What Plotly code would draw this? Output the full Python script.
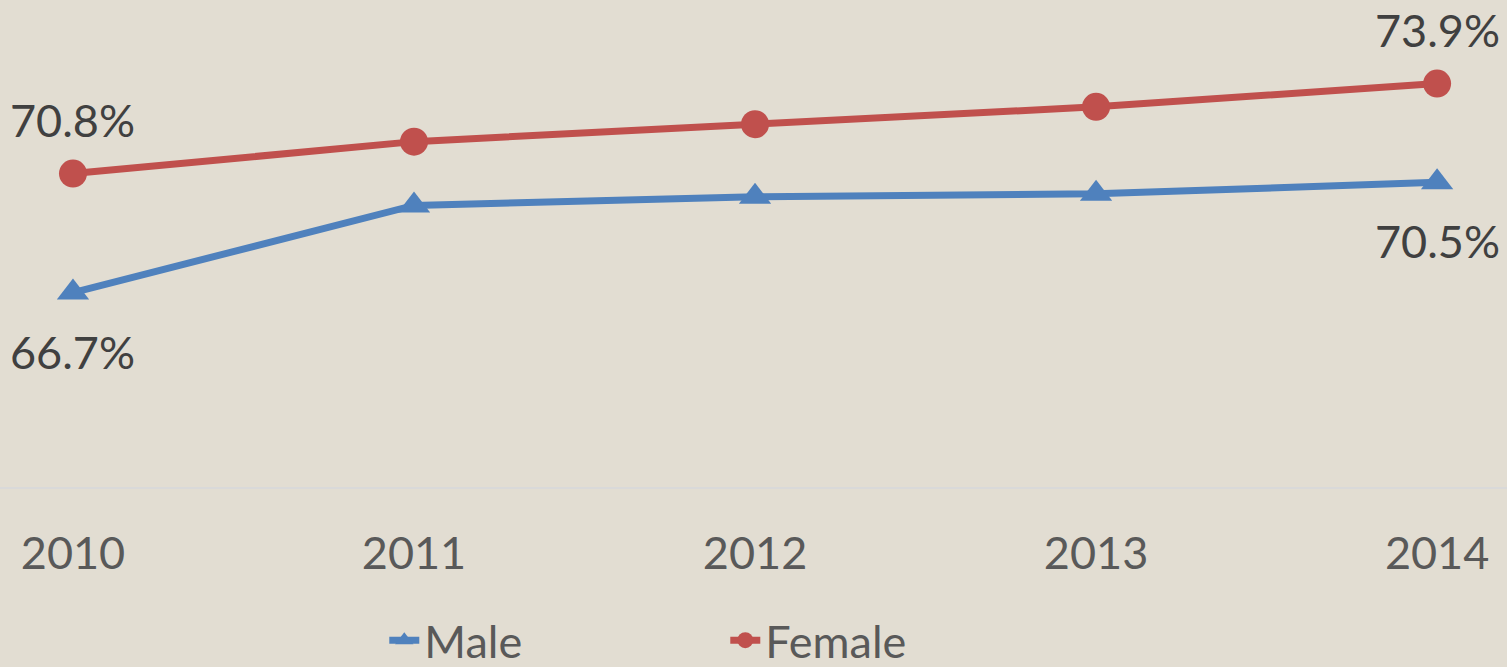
import plotly.graph_objects as go

years = [2010, 2011, 2012, 2013, 2014]
male = [66.7, 69.7, 70.0, 70.1, 70.5]
female = [70.8, 71.9, 72.5, 73.1, 73.9]

BG = "#e2ddd2"
FONT = "Lato"
LABEL_FONT = dict(family=FONT, size=45, color="#404040")

fig = go.Figure()

fig.add_trace(go.Scatter(
    x=years, y=male, name="Male",
    mode="lines+markers",
    line=dict(color="#4f81bd", width=7),
    marker=dict(symbol="triangle-up", size=28, color="#4f81bd"),
))

fig.add_trace(go.Scatter(
    x=years, y=female, name="Female",
    mode="lines+markers",
    line=dict(color="#c0504d", width=7),
    marker=dict(symbol="circle", size=28, color="#c0504d"),
))

# labels on first and last points only
for i in (0, -1):
    fig.add_annotation(x=years[i], y=female[i], text=f"{female[i]:.1f}%",
                       showarrow=False, yshift=54, font=LABEL_FONT)
    fig.add_annotation(x=years[i], y=male[i], text=f"{male[i]:.1f}%",
                       showarrow=False, yshift=-59, font=LABEL_FONT)

fig.update_layout(
    width=1507, height=667,
    paper_bgcolor=BG, plot_bgcolor=BG,
    margin=dict(l=0, r=0, t=0, b=180, autoexpand=False),
    font=dict(family=FONT, color="#595959"),
    showlegend=True,
    legend=dict(
        orientation="h", x=0.255, xanchor="left", y=-0.315, yanchor="middle",
        entrywidth=296, entrywidthmode="pixels",
        font=dict(family=FONT, size=45, color="#595959"),
        bgcolor="rgba(0,0,0,0)",
    ),
)

fig.update_xaxes(
    range=[2009.786, 2014.205],
    tickvals=years, ticktext=[str(y) for y in years],
    tickfont=dict(family=FONT, size=45, color="#595959"),
    showgrid=False, zeroline=False,
    showline=True, linecolor="#d9d9d9", linewidth=2,
    ticks="", ticklabelstandoff=26,
)

fig.update_yaxes(
    range=[60, 76.78],
    visible=False, showgrid=False, zeroline=False,
)

fig.write_html("out.html", config={"displayModeBar": False},
               post_script="document.body.style.margin='0';")
